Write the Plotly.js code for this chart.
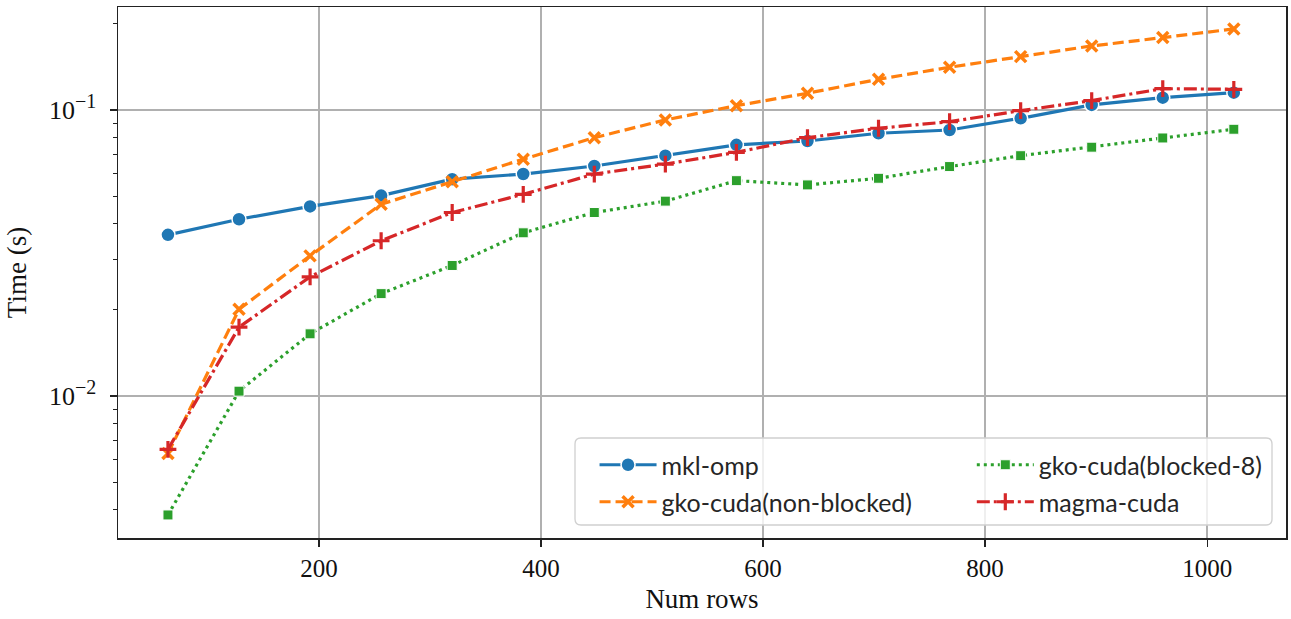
<!DOCTYPE html>
<html>
<head>
<meta charset="utf-8">
<script src="https://cdn.plot.ly/plotly-3.0.1.min.js"></script>
<style>html,body{margin:0;padding:0;background:#fff;}#chart{width:1291px;height:619px;}</style>
</head>
<body>
<div id="chart"></div>
<script>
const numRows = [64,128,192,256,320,384,448,512,576,640,704,768,832,896,960,1024];
const mklOmp = [0.0366,0.0415,0.0460,0.0502,0.0573,0.0597,0.0637,0.0692,0.0755,0.0779,0.0829,0.0851,0.0935,0.1041,0.1104,0.1149];
const gkoNonBlocked = [0.0063,0.0201,0.0309,0.0468,0.0561,0.0673,0.0800,0.0923,0.1035,0.1144,0.1280,0.1410,0.1536,0.1674,0.1790,0.1920];
const gkoBlocked8 = [0.00384,0.0104,0.0165,0.0228,0.0286,0.0372,0.0438,0.0480,0.0566,0.0547,0.0577,0.0634,0.0692,0.0741,0.0798,0.0856];
const magmaCuda = [0.00651,0.0174,0.0261,0.0349,0.0438,0.0507,0.0597,0.0647,0.0711,0.0800,0.0863,0.0910,0.0994,0.1078,0.1187,0.1181];
const xTickVals = [200,400,600,800,1000];
const yTickVals = [0.01,0.1];
const yTickText = ['10<sup><span style="font-size:20px">\u22122</span></sup>','10<sup><span style="font-size:20px">\u22121</span></sup>'];
const yMinorVals = [0.004,0.005,0.006,0.007,0.008,0.009,0.02,0.03,0.04,0.05,0.06,0.07,0.08,0.09,0.2];

const serif = '"Liberation Serif", "DejaVu Serif", serif';
const sans = 'Lato, "Open Sans", sans-serif';

const traces = [
  {x:numRows, y:mklOmp, name:'mkl-omp', mode:'lines+markers', legend:'legend',
   line:{color:'#1f77b4', width:3.2},
   marker:{symbol:'circle', size:14, color:'#1f77b4', line:{color:'#ffffff', width:1.5}}},
  {x:numRows, y:gkoNonBlocked, name:'gko-cuda(non-blocked)', mode:'lines+markers', legend:'legend2',
   line:{color:'#ff7f0e', width:3.2, dash:'11px,5px'},
   marker:{symbol:'x-thin-open', size:11, color:'#ff7f0e', line:{color:'#ff7f0e', width:3.5}}},
  {x:numRows, y:gkoBlocked8, name:'gko-cuda(blocked-8)', mode:'lines+markers', legend:'legend3',
   line:{color:'#2ca02c', width:3.2, dash:'3px,4px'},
   marker:{symbol:'square', size:10, color:'#2ca02c', line:{color:'#ffffff', width:1}}},
  {x:numRows, y:magmaCuda, name:'magma-cuda', mode:'lines+markers', legend:'legend4',
   line:{color:'#d62728', width:3.2, dash:'13px,4px,3px,4px'},
   marker:{symbol:'cross-thin-open', size:12, color:'#d62728', line:{color:'#d62728', width:3.2}}}
];

function leg(x, y){
  return {x:x, y:y, xanchor:'left', yanchor:'middle', bgcolor:'rgba(0,0,0,0)', borderwidth:0,
          itemwidth:57, font:{family:sans, size:25, color:'#262626'}};
}

const boxX0 = (575-118)/1168, boxX1 = (1272-118)/1168, boxY0 = (538-525)/531, boxY1 = (538-438)/531;
const rx = 6/1168, ry = 6/531;
const boxPath = 'M' + (boxX0+rx) + ',' + boxY0 +
  ' L' + (boxX1-rx) + ',' + boxY0 + ' Q' + boxX1 + ',' + boxY0 + ' ' + boxX1 + ',' + (boxY0+ry) +
  ' L' + boxX1 + ',' + (boxY1-ry) + ' Q' + boxX1 + ',' + boxY1 + ' ' + (boxX1-rx) + ',' + boxY1 +
  ' L' + (boxX0+rx) + ',' + boxY1 + ' Q' + boxX0 + ',' + boxY1 + ' ' + boxX0 + ',' + (boxY1-ry) +
  ' L' + boxX0 + ',' + (boxY0+ry) + ' Q' + boxX0 + ',' + boxY0 + ' ' + (boxX0+rx) + ',' + boxY0 + ' Z';

const layout = {
  width:1291, height:619,
  margin:{l:118, r:5, t:7, b:81},
  paper_bgcolor:'#ffffff', plot_bgcolor:'#ffffff',
  showlegend:true,
  xaxis:{range:[19,1071], tickmode:'array', tickvals:xTickVals, ticks:'outside', ticklen:7, tickwidth:1.3,
         tickcolor:'#222', showline:true, mirror:true, linecolor:'#222', linewidth:1.5,
         showgrid:true, gridcolor:'#b0b0b0', gridwidth:1.5, zeroline:false,
         tickfont:{family:serif, size:25, color:'#111'},
         title:{text:'Num rows', font:{family:serif, size:27, color:'#111'}, standoff:8}},
  yaxis:{type:'log', range:[Math.log10(0.00319), Math.log10(0.229)], tickmode:'array', tickvals:yTickVals, ticktext:yTickText,
         ticks:'outside', ticklen:7, tickwidth:1.3, tickcolor:'#222', showline:true, mirror:true, linecolor:'#222', linewidth:1.5,
         showgrid:true, gridcolor:'#b0b0b0', gridwidth:1.5, zeroline:false, ticklabelstandoff:8,
         minor:{tickmode:'array', tickvals:yMinorVals, ticks:'outside', ticklen:4, tickwidth:1, tickcolor:'#222', showgrid:false},
         tickfont:{family:serif, size:26, color:'#111'},
         title:{text:'Time (s)', font:{family:serif, size:27, color:'#111'}, standoff:14}},
  shapes:[{type:'path', xref:'paper', yref:'paper', path:boxPath,
           fillcolor:'rgba(255,255,255,0.8)', line:{color:'#d0d0d0', width:1.3}, layer:'above'}],
  legend: leg(0.408, (538-465)/531),
  legend2: leg(0.408, (538-502)/531),
  legend3: leg(0.731, (538-465)/531),
  legend4: leg(0.731, (538-502)/531)
};

Plotly.newPlot('chart', traces, layout, {displayModeBar:false, staticPlot:true});
</script>
</body>
</html>
